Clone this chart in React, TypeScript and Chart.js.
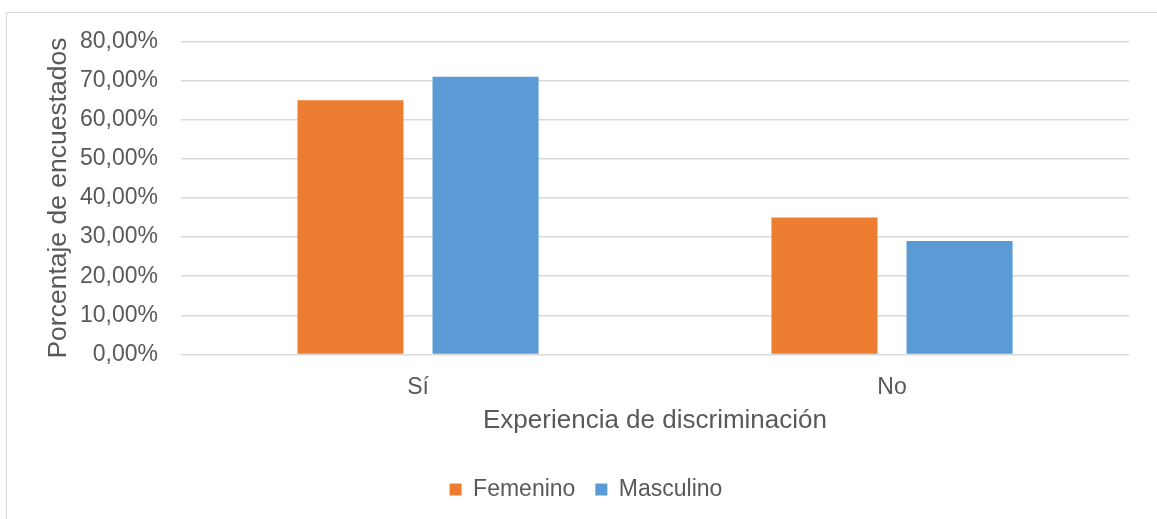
import React, { useEffect, useRef } from "react";
import { Chart, registerables } from "chart.js";

Chart.register(...registerables);

const categories = ["Sí", "No"];
const femenino = [65.0, 35.0];
const masculino = [71.0, 29.0];
const yTicks = [0, 10, 20, 30, 40, 50, 60, 70, 80];

const TEXT = "#595959";
const FONT = "'Liberation Sans', Arial, sans-serif";

export default function App() {
  const ref = useRef<HTMLCanvasElement | null>(null);
  useEffect(() => {
    if (!ref.current) return;
    const chart = new Chart(ref.current, {
      type: "bar",
      data: {
        labels: categories,
        datasets: [
          { label: "Femenino", data: femenino, backgroundColor: "#ED7D31", categoryPercentage: 0.57, barPercentage: 0.785 },
          { label: "Masculino", data: masculino, backgroundColor: "#5B9BD5", categoryPercentage: 0.57, barPercentage: 0.785 },
        ],
      },
      options: {
        responsive: false,
        animation: false,
        layout: { padding: { left: 43, right: 28, top: 41.5, bottom: 8 } },
        plugins: {
          tooltip: { enabled: false },
          legend: {
            position: "bottom",
            labels: {
              boxWidth: 12,
              boxHeight: 12,
              padding: 20,
              color: TEXT,
              font: { family: FONT, size: 23 },
            },
          },
        },
        scales: {
          x: {
            grid: { display: false, drawTicks: false },
            border: { display: false },
            ticks: { color: TEXT, font: { family: FONT, size: 23 }, padding: 19 },
            title: { display: true, text: "Experiencia de discriminación", color: TEXT, font: { family: FONT, size: 26 }, padding: { top: 0, bottom: 21.5 } },
            afterFit: (s: any) => { s.height = 103.5; },
          },
          y: {
            min: 0,
            max: 80,
            afterBuildTicks: (s: any) => { s.ticks = yTicks.map((v) => ({ value: v })); },
            grid: { color: "#d9d9d9", lineWidth: 1.6, drawTicks: false },
            border: { display: false },
            ticks: {
              color: TEXT,
              font: { family: FONT, size: 23 },
              padding: 23,
              callback: (v: any) => Number(v).toFixed(2).replace(".", ",") + "%",
            },
            title: { display: true, text: "Porcentaje de encuestados", color: TEXT, font: { family: FONT, size: 26.5 }, padding: 0 },
            afterFit: (s: any) => { s.width = 138; },
          },
        },
      },
    });
    return () => chart.destroy();
  }, []);
  return (
    <div style={{ position: "absolute", left: 0, top: 0, width: 1157, height: 519, background: "#fff", overflow: "hidden" }}>
      <div style={{ position: "absolute", left: 6, top: 12, width: 1200, height: 600, borderLeft: "1px solid #d9d9d9", borderTop: "1px solid #d9d9d9" }} />
      <canvas ref={ref} width={1157} height={519} style={{ position: "absolute", left: 0, top: 0 }} />
    </div>
  );
}
